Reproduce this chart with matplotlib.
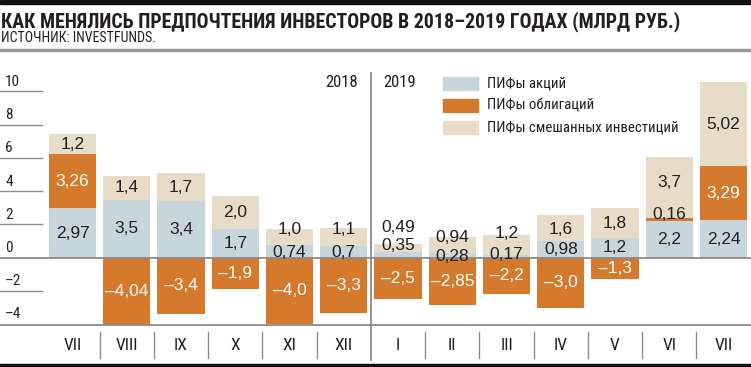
import matplotlib
matplotlib.use("Agg")
import matplotlib.pyplot as plt
from matplotlib import font_manager
from matplotlib.patches import Rectangle

# данные (млрд руб.), июль 2018 - июль 2019
months = ["VII", "VIII", "IX", "X", "XI", "XII", "I", "II", "III", "IV", "V", "VI", "VII"]
stocks = [2.97, 3.5, 3.4, 1.7, 0.74, 0.7, 0.35, 0.28, 0.17, 0.98, 1.2, 2.2, 2.24]
bonds = [3.26, -4.04, -3.4, -1.9, -4.0, -3.3, -2.5, -2.85, -2.2, -3.0, -1.3, 0.16, 3.29]
mixed = [1.2, 1.4, 1.7, 2.0, 1.0, 1.1, 0.49, 0.94, 1.2, 1.6, 1.8, 3.7, 5.02]
series_names = ["ПИФы акций", "ПИФы облигаций", "ПИФы смешанных инвестиций"]
yticks = [10, 8, 6, 4, 2, 0, -2, -4]

C_STOCK = "#c7d6dd"
C_BOND = "#d57a2d"
C_MIX = "#e6dcc7"
C_GRID = "#8a8a8a"
C_TEXT = "#231f20"

avail = {f.name for f in font_manager.fontManager.ttflist}
narrow = next((n for n in ["Liberation Sans Narrow", "Roboto Condensed", "Open Sans Condensed"] if n in avail), None)
if narrow is None:
    narrow = "DejaVu Sans"
    stretch = "condensed"
else:
    stretch = "normal"
NF = dict(family=narrow, fontstretch=stretch)
RF = dict(family="Liberation Sans")

W, H = 751, 367
fig = plt.figure(figsize=(W / 100, H / 100), dpi=100)
ax = fig.add_axes([0, 0, 1, 1])

# пиксели -> данные
Y0, PPU = 257.7, 16.62
X0, STEP = 72.5, 54.25
def py(p):
    return (Y0 - p) / PPU
def px(p):
    return (p - X0) / STEP

ax.set_xlim(px(0), px(W))
ax.set_ylim(py(H), py(0))
ax.axis("off")

x = list(range(len(months)))
bw = 0.87
bond_bottom = [s if b > 0 else 0 for s, b in zip(stocks, bonds)]
mix_bottom = [s + max(b, 0) for s, b in zip(stocks, bonds)]
ax.bar(x, stocks, bw, color=C_STOCK, zorder=2)
ax.bar(x, bonds, bw, bottom=bond_bottom, color=C_BOND, zorder=2)
ax.bar(x, mixed, bw, bottom=mix_bottom, color=C_MIX, zorder=2)

def fmt(v):
    s = f"{abs(v):.2f}"
    if s.endswith("0"):
        s = s[:-1]
    return ("–" if v < 0 else "") + s.replace(".", ",")

# положение подписей для маленьких сегментов (в единицах оси)
label_y = {
    (0, 4): 0.3, (0, 5): 0.3, (0, 6): 0.75, (0, 7): 0.06, (0, 8): 0.22,
    (2, 4): 1.67, (2, 5): 1.67, (2, 6): 1.79, (2, 7): 1.23, (2, 8): 1.47,
    (2, 9): 1.67, (2, 10): 2.07, (2, 11): 4.5,
    (1, 11): 2.57,
}
for k, (vals, bots) in enumerate([(stocks, [0] * 13), (bonds, bond_bottom), (mixed, mix_bottom)]):
    for i, (v, b) in enumerate(zip(vals, bots)):
        y = label_y.get((k, i), b + v / 2)
        col = "white" if (k == 1 and (v < 0 or v > 1)) else C_TEXT
        ax.text(i, y, fmt(v), ha="center", va="center", fontsize=12.5, color=col, zorder=4, **RF)

# ось y
for t in yticks:
    ax.text(px(5), t + py(255), str(t).replace("-", "–"), ha="left", va="bottom",
            fontsize=11, color=C_TEXT, **NF)
    if t not in (0, -4):
        ax.plot([px(0), px(42)], [t, t], color=C_GRID, lw=1, zorder=3)
ax.axhline(0, color=C_GRID, lw=1.3, zorder=3)
ax.axhline(py(325), color=C_GRID, lw=1.3, zorder=3)

# месяцы и разделители
for i, m in enumerate(months):
    ax.text(i, py(346), m, ha="center", va="center", fontsize=12.5, color=C_TEXT, **NF)
for i in range(len(months) - 1):
    if i == 5:
        ax.plot([i + 0.5, i + 0.5], [py(73), py(360)], color=C_GRID, lw=1.3, zorder=3)
    else:
        ax.plot([i + 0.5, i + 0.5], [py(332), py(358)], color=C_GRID, lw=1, zorder=3)
ax.text(px(358), py(83), "2018", ha="right", va="center", fontsize=12, color=C_TEXT, **NF)
ax.text(px(383), py(83), "2019", ha="left", va="center", fontsize=12, color=C_TEXT, **NF)

# легенда
for j, (name, c) in enumerate(zip(series_names, [C_STOCK, C_BOND, C_MIX])):
    yc = py([84, 106, 128][j])
    ax.add_patch(Rectangle((px(443), yc - 6.5 / PPU), 35 / STEP, 13 / PPU, color=c, zorder=2))
    ax.text(px(487), yc, name, ha="left", va="center", fontsize=10.6, color=C_TEXT, **NF)

# шапка
fig.add_artist(Rectangle((0, 1 - 4 / H), 1, 4 / H, transform=fig.transFigure, color="#111111"))
fig.add_artist(Rectangle((0, 1 - 51 / H), 1, 2 / H, transform=fig.transFigure, color="#9a9a9a"))
fig.add_artist(Rectangle((0, 0), 1, 3 / H, transform=fig.transFigure, color="#111111"))
fig.text(1 / W, 1 - 27 / H, "КАК МЕНЯЛИСЬ ПРЕДПОЧТЕНИЯ ИНВЕСТОРОВ В 2018–2019 ГОДАХ (МЛРД РУБ.)",
         ha="left", va="baseline", fontsize=14.3, fontweight="bold", color=C_TEXT, **NF)
fig.text(1 / W, 1 - 42 / H, "ИСТОЧНИК: INVESTFUNDS.", ha="left", va="baseline",
         fontsize=10, color=C_TEXT, **NF)

fig.savefig("out.png", dpi=100)
